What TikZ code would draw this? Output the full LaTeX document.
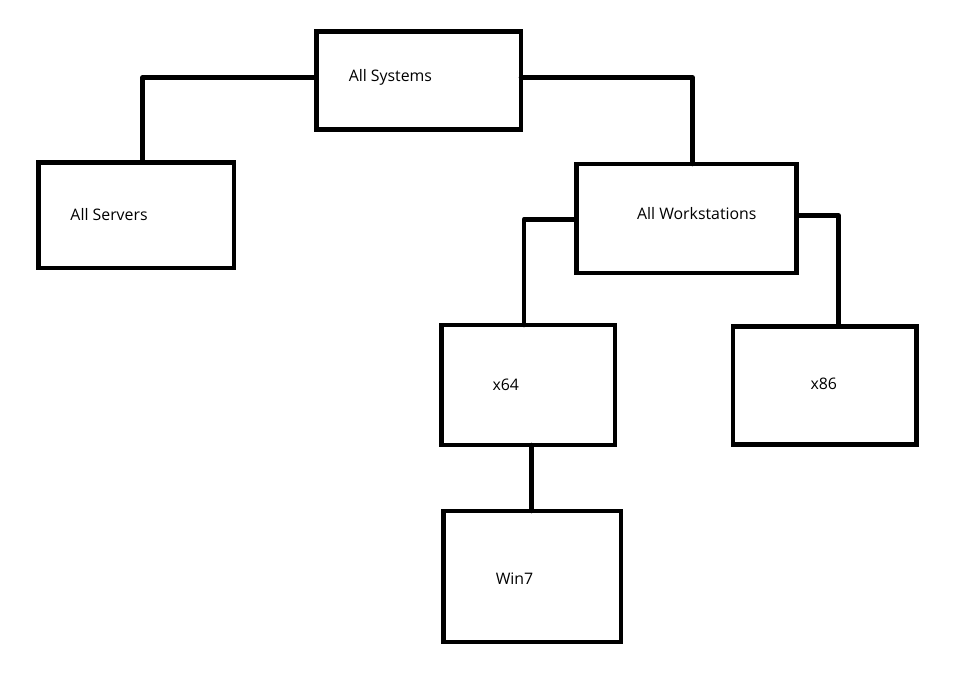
\documentclass[tikz,border=0pt]{standalone}
\usepackage{fontspec}
\setmainfont{Open Sans}
\usetikzlibrary{fit}
\begin{document}
\begin{tikzpicture}[x=0.75pt,y=-0.75pt,
  box/.style={draw=black,line width=3.4pt,inner sep=0pt,outer sep=0pt,rectangle},
  lbl/.style={anchor=base west,inner sep=0pt,font=\fontsize{11.9pt}{13pt}\selectfont,text=black},
  conn/.style={draw=black,line width=3.4pt,line cap=round,line join=round}]
\useasboundingbox[fill=white] (0,0) rectangle (958,687);
% boxes
\node[box,fit={(316.5,31.7) (521,129.5)}] (sys) {};
\node[box,fit={(38.7,162.7) (234,268)}] (srv) {};
\node[box,fit={(576.5,164) (796.3,273)}] (ws) {};
\node[box,fit={(441.3,325) (615,445)}] (x64) {};
\node[box,fit={(733,326.7) (916.3,444.3)}] (x86) {};
\node[box,fit={(443.7,511) (621,642)}] (win) {};
% labels
\node[lbl] (tsys) at (348.5,81.7) {All Systems};
\node[lbl] (tsrv) at (70.2,220.7) {All Servers};
\node[lbl] (tws) at (636.8,219.3) {All Workstations};
\node[lbl] (tx64) at (492.3,390) {x64};
\node[lbl] (tx86) at (810.3,389.3) {x86};
\node[lbl] (twin) at (495.5,584.3) {Win7};
% bend points
\coordinate (b1) at (142.7,77.5);
\coordinate (b2) at (692.5,77.3);
\coordinate (b3) at (524,219.3);
\coordinate (b4) at (838.3,215.3);
\coordinate (b5) at (531.7,445);
% connectors
\draw[conn] (sys.west |- b1) -- (b1) -- (b1 |- srv.north);
\draw[conn] (sys.east |- b2) -- (b2) -- (b2 |- ws.north);
\draw[conn] (ws.west |- b3) -- (b3) -- (b3 |- x64.north);
\draw[conn] (ws.east |- b4) -- (b4) -- (b4 |- x86.north);
\draw[conn] (b5) -- (b5 |- win.north);
\end{tikzpicture}
\end{document}
